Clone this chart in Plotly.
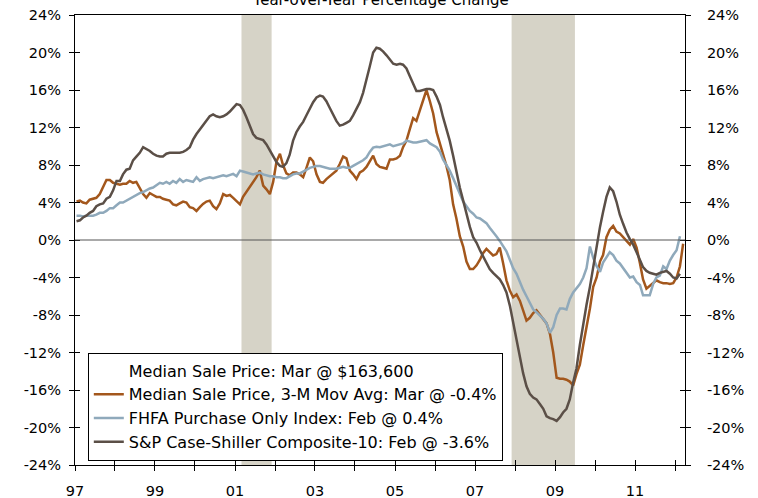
import pandas as pd
import plotly.graph_objects as go

# ---- data (monthly, year-over-year % change), Jan 1997 onward ----
median_3m = [
    4.1, 4.2, 4.0, 3.9, 4.3, 4.4, 4.5, 4.9, 5.6, 6.4, 6.4, 6.1,
    6.0, 5.9, 6.0, 6.0, 6.3, 6.1, 6.2, 5.6, 4.9, 4.5, 5.0, 4.8,
    4.6, 4.6, 4.4, 4.3, 4.2, 3.8, 3.7, 3.9, 4.1, 4.0, 3.5, 3.4,
    3.1, 3.5, 3.85, 4.1, 4.2, 3.6, 3.3, 3.9, 4.9, 4.7, 4.8, 4.5,
    4.1, 3.8, 4.6, 5.1, 5.7, 6.2, 6.7, 7.4, 5.8, 5.4, 4.9, 6.2,
    8.4, 9.2, 8.0, 7.1, 6.9, 7.2, 7.2, 7.0, 6.7, 7.7, 8.8, 8.4,
    7.0, 6.2, 6.1, 6.5, 6.8, 7.1, 7.4, 8.1, 8.9, 8.7, 7.4, 7.0,
    6.5, 7.2, 7.4, 7.8, 8.4, 9.0, 8.1, 7.8, 7.7, 7.6, 8.6, 8.6,
    8.7, 9.0, 9.9, 10.6, 11.8, 13.0, 12.7, 13.8, 14.7, 16.0, 14.8, 13.5,
    11.5, 10.3, 9.1, 7.9, 6.4, 3.8, 2.3, 0.4, -0.7, -2.3, -3.1, -3.1,
    -2.7, -2.1, -1.4, -0.95, -1.3, -1.65, -1.5, -0.8, -2.5, -4.3, -5.4, -6.1,
    -5.8, -6.5, -7.5, -8.6, -8.3, -7.8, -7.5, -8.0, -8.4, -8.9, -10.0, -12.0,
    -14.7, -14.8, -14.8, -14.9, -15.1, -15.5, -14.3, -13.3, -11.2, -9.3, -7.3, -5.0,
    -4.0, -2.3, -1.6, 0.3, 1.1, 1.5, 0.9, 0.7, 0.3, -0.2, -0.5, 0.1,
    -0.8, -2.5, -4.2, -5.2, -4.9, -4.6, -4.3, -4.5, -4.6, -4.6, -4.7, -4.6,
    -4.0, -2.8, -0.4,
]

fhfa = [
    2.6, 2.6, 2.5, 2.6, 2.6, 2.6, 2.7, 2.9, 2.9, 3.1, 3.4, 3.4,
    3.7, 4.0, 4.0, 4.2, 4.4, 4.6, 4.8, 5.0, 5.1, 5.3, 5.5, 5.6,
    5.9, 6.1, 6.0, 6.2, 6.0, 6.3, 6.1, 6.5, 6.2, 6.4, 6.3, 6.2,
    6.7, 6.3, 6.5, 6.6, 6.7, 6.6, 6.7, 6.8, 6.9, 6.8, 6.9, 7.05,
    6.8, 7.4, 7.3, 7.2, 7.1, 7.0, 7.1, 7.2, 7.0, 6.9, 6.8, 6.8,
    6.7, 6.7, 6.6, 6.6, 6.8, 7.0, 7.1, 7.1, 7.3, 7.5, 7.7, 7.8,
    7.9, 7.9, 7.8, 7.7, 7.6, 7.6, 7.6, 7.7, 7.8, 7.7, 7.7, 7.9,
    8.1, 8.3, 8.5, 8.8, 9.4, 9.85, 9.95, 9.9, 10.0, 10.05, 10.2, 10.0,
    10.1, 10.2, 10.3, 10.6, 10.5, 10.4, 10.4, 10.5, 10.6, 10.65, 10.3, 10.1,
    9.9, 9.4, 8.6, 8.0, 7.4, 6.6, 5.8, 4.9, 4.1, 3.6, 3.1, 2.8,
    2.4, 2.3, 2.1, 1.8, 1.3, 0.9, 0.4, -0.1, -0.6, -1.2, -2.1, -3.0,
    -3.6, -4.5, -5.3, -6.0, -6.7, -7.4, -7.7, -8.0, -8.4, -8.9, -9.9, -9.3,
    -8.0, -7.3, -7.3, -7.4, -6.3, -5.6, -5.2, -4.7, -4.0, -3.0, -0.7, -1.9,
    -2.8, -3.4, -2.4, -1.8, -1.3, -1.6, -2.2, -2.5, -3.0, -3.4, -4.0, -3.9,
    -4.5, -4.8, -5.9, -5.9, -5.9, -4.7, -4.0, -3.8, -2.8, -3.1, -2.2, -1.6,
    -1.1, 0.4,
]

case_shiller = [
    2.0, 2.1, 2.4, 2.6, 2.9, 3.1, 3.6, 3.8, 3.9, 4.4, 4.6, 5.3,
    6.3, 6.3, 7.0, 7.5, 7.6, 8.5, 8.9, 9.3, 9.9, 9.7, 9.5, 9.2,
    9.0, 8.9, 8.9, 9.2, 9.3, 9.3, 9.3, 9.3, 9.4, 9.6, 9.9, 10.7,
    11.3, 11.8, 12.2, 12.7, 13.2, 13.4, 13.2, 13.1, 13.2, 13.4, 13.7, 14.1,
    14.5, 14.4, 13.9, 13.1, 12.2, 11.3, 10.9, 10.8, 10.65, 10.2, 9.6, 8.9,
    8.3, 7.9, 7.8, 8.2, 9.1, 10.6, 11.5, 12.1, 12.6, 13.3, 14.1, 14.7,
    15.2, 15.4, 15.3, 14.8, 14.1, 13.3, 12.7, 12.2, 12.3, 12.5, 12.7, 13.3,
    14.0, 14.7, 15.7, 17.0, 18.5, 20.0, 20.5, 20.4, 20.1, 19.7, 19.2, 18.8,
    18.7, 18.8, 18.7, 18.3, 17.5, 16.6, 15.9, 15.9, 16.0, 16.1, 16.1, 16.0,
    15.3, 14.4, 13.1, 11.8, 10.6, 9.0, 7.3, 5.6, 4.2, 2.8, 1.4, 0.3,
    -0.3, -1.1, -1.7, -2.4, -3.1, -3.5, -3.8, -4.2, -4.8, -5.6, -7.0, -8.8,
    -10.5, -12.5, -14.2, -15.6, -16.4, -16.8, -17.0, -17.5, -18.0, -18.8, -19.0, -19.1,
    -19.3, -18.9, -18.4, -18.0, -17.0, -15.2, -13.7, -11.2, -8.9, -6.9, -5.0, -2.8,
    -0.5, 1.4, 3.0, 4.6, 5.6, 5.2, 4.1, 2.7, 1.7, 0.8, 0.1, -0.5,
    -1.3, -2.1, -2.9, -3.3, -3.5, -3.6, -3.7, -3.5, -3.4, -3.3, -3.6, -4.0,
    -4.1, -3.6,
]

recession_start = ["2001-03-01", "2007-12-01"]
recession_end = ["2001-12-01", "2009-07-01"]

y_ticks = [-24, -20, -16, -12, -8, -4, 0, 4, 8, 12, 16, 20, 24]
y_ticktext = [f"{v}%" for v in y_ticks]
year_ticks = [f"{y}-01-01" for y in range(1997, 2013)]
year_labels = ["97", "", "99", "", "01", "", "03", "", "05", "", "07", "", "09", "", "11", ""]

names = [
    "Median Sale Price: Mar @ $163,600",
    "Median Sale Price, 3-M Mov Avg: Mar @ -0.4%",
    "FHFA Purchase Only Index: Feb @ 0.4%",
    "S&P Case-Shiller Composite-10: Feb @ -3.6%",
]
colors = ["rgba(0,0,0,0)", "#A3571C", "#8FA9BB", "#5B4F47"]


def month_dates(n):
    return pd.date_range("1997-01-01", periods=n, freq="MS") + pd.Timedelta(days=14)


FONT = "DejaVu Sans"
X_RANGE = ["1997-01-01", "2012-04-01"]
Y_RANGE = [-24, 24]

fig = go.Figure()

# legend-only entry for the dollar-valued median price
fig.add_trace(go.Scatter(x=[None], y=[None], mode="lines", name=names[0],
                         line=dict(color=colors[0], width=2.5)))
for series, nm, col in zip([median_3m, fhfa, case_shiller], names[1:], colors[1:]):
    fig.add_trace(go.Scatter(x=month_dates(len(series)), y=series, mode="lines",
                             name=nm, line=dict(color=col, width=2.5),
                             hoverinfo="skip"))

# helper empty traces so the overlay axes (crossing ticks / right axis) are drawn
fig.add_trace(go.Scatter(x=[None], y=[None], xaxis="x", yaxis="y2", showlegend=False))
fig.add_trace(go.Scatter(x=[None], y=[None], xaxis="x2", yaxis="y3", showlegend=False))
fig.add_trace(go.Scatter(x=[None], y=[None], xaxis="x2", yaxis="y4", showlegend=False))

shapes = []
for s, e in zip(recession_start, recession_end):
    shapes.append(dict(type="rect", xref="x", yref="paper", x0=s, x1=e, y0=0, y1=1,
                       fillcolor="#D6D3C7", line=dict(width=0), layer="below"))
shapes.append(dict(type="line", xref="paper", yref="y", x0=0, x1=1, y0=0, y1=0,
                   line=dict(color="#555555", width=1), layer="above"))

tick_font = dict(family=FONT, size=14.5, color="black")
common = dict(automargin=False, showgrid=False, zeroline=False)

fig.update_layout(
    width=758, height=498,
    margin=dict(l=75, r=73, t=15, b=33, autoexpand=False),
    paper_bgcolor="white", plot_bgcolor="white",
    font=dict(family=FONT, color="black"),
    showlegend=True,
    hovermode=False,
    legend=dict(x=0.021, y=0.01, xanchor="left", yanchor="bottom",
                bgcolor="white", bordercolor="black", borderwidth=1,
                font=dict(family=FONT, size=16, color="black"),
                tracegroupgap=0, itemwidth=30),
    shapes=shapes,
    xaxis=dict(type="date", range=X_RANGE, tickvals=year_ticks, ticktext=year_labels,
               ticks="outside", ticklen=5, tickcolor="black", showline=True,
               linecolor="black", linewidth=1, mirror=True,
               tickfont=tick_font, ticklabelstandoff=8, **common),
    xaxis2=dict(type="date", range=X_RANGE, overlaying="x", anchor="y", side="bottom",
                tickvals=year_ticks, ticks="inside", ticklen=5, tickcolor="black",
                showticklabels=False, showline=False, **common),
    yaxis=dict(range=Y_RANGE, tickvals=y_ticks, ticktext=y_ticktext,
               ticks="outside", ticklen=5, tickcolor="black", showline=True,
               linecolor="black", linewidth=1,
               tickfont=tick_font, ticklabelstandoff=5, **common),
    yaxis2=dict(range=Y_RANGE, tickvals=y_ticks, ticktext=y_ticktext, overlaying="y",
                side="right", anchor="x", ticks="outside", ticklen=5, tickcolor="black",
                showline=True, linecolor="black", linewidth=1,
                tickfont=tick_font, ticklabelstandoff=13, **common),
    yaxis3=dict(range=Y_RANGE, tickvals=y_ticks, overlaying="y", side="left", anchor="x2",
                ticks="inside", ticklen=5, tickcolor="black", showticklabels=False,
                showline=False, **common),
    yaxis4=dict(range=Y_RANGE, tickvals=y_ticks, overlaying="y", side="right", anchor="x2",
                ticks="inside", ticklen=5, tickcolor="black", showticklabels=False,
                showline=False, **common),
    annotations=[dict(text="Year-over-Year Percentage Change", xref="paper", yref="paper",
                      x=0.5, y=1, xanchor="center", yanchor="bottom", yshift=4,
                      showarrow=False, font=dict(family=FONT, size=15, color="black"))],
)

fig.write_html("out.html", config={"displayModeBar": False, "staticPlot": True},
               post_script="document.body.style.margin='0';document.body.style.overflow='hidden';")
